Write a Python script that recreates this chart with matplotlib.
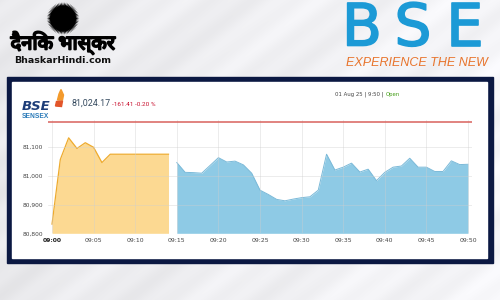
"""Recreate the BSE Sensex intraday snapshot (01 Aug 25, 9:50)."""

from __future__ import annotations

import matplotlib

matplotlib.use("Agg")

import matplotlib.pyplot as plt
import matplotlib.patheffects as pe
import numpy as np
from matplotlib.patches import Polygon, Rectangle


# minutes after 09:00
PREOPEN_MINUTES = list(range(0, 15))
PREOPEN_VALUES = [
    80832, 81057, 81132, 81095, 81115, 81099, 81046, 81075,
    81075, 81075, 81075, 81075, 81075, 81075, 81075,
]
SESSION_MINUTES = list(range(15, 51))
SESSION_VALUES = [
    81046, 81012, 81011, 81009, 81036, 81063, 81048, 81051, 81038, 81009,
    80950, 80935, 80918, 80913, 80919, 80924, 80927, 80950, 81075, 81020,
    81030, 81044, 81013, 81023, 80983, 81012, 81030, 81034, 81061, 81030,
    81030, 81015, 81015, 81052, 81039, 81040,
]
PREV_CLOSE = 81185.58

Y_TICKS = [80800, 80900, 81000, 81100]
Y_TICK_LABELS = ["80,800", "80,900", "81,000", "81,100"]
X_TICKS = list(range(0, 51, 5))
X_TICK_LABELS = ["09:00", "09:05", "09:10", "09:15", "09:20", "09:25",
                 "09:30", "09:35", "09:40", "09:45", "09:50"]

LAST_PRICE = "81,024.17"
CHANGE_TEXT = "-161.41 -0.20 %"
STAMP_TEXT = "01 Aug 25 | 9:50 | "
STATUS_TEXT = "Open"

NAVY = "#0b1842"
BSE_BLUE = "#1c9ad6"
YELLOW_FILL = "#fcd992"
YELLOW_LINE = "#eeab2e"
BLUE_FILL = "#8ecae5"
BLUE_LINE = "#7ab9d8"


def draw_background(bg) -> None:
    """Light grey page with soft diagonal streaks plus the navy chart frame."""
    yy, xx = np.mgrid[0:300, 0:500]
    shade = 0.915 + 0.05 * (xx / 500) + 0.012 * np.sin((xx + 1.3 * yy) / 22.0)
    shade += 0.01 * np.sin((xx + 1.3 * yy) / 7.0)
    img = np.dstack([shade, shade, np.clip(shade * 1.012, 0, 1)])
    bg.imshow(np.clip(img, 0, 1), extent=(0, 500, 300, 0), aspect="auto", zorder=0)

    bg.add_patch(Rectangle((7, 77), 486, 186, color=NAVY, zorder=1))
    bg.add_patch(Rectangle((12, 82), 475, 176, color="white", zorder=2))


def draw_header(bg) -> None:
    """Newspaper masthead on the left, BSE logo on the right."""
    # sun mark: a star-shaped polygon with many short rays
    cx, cy = 63, 18.5
    n_rays = 64
    ang = np.linspace(0, 2 * np.pi, 2 * n_rays, endpoint=False)
    rad = np.where(np.arange(2 * n_rays) % 2 == 0, 16.3, 12.8)
    bg.add_patch(Polygon(np.column_stack([cx + rad * np.cos(ang), cy + rad * np.sin(ang)]),
                         closed=True, color="black", lw=0, zorder=3))

    bg.text(63, 42.5, "दैनिक भास्कर", ha="center", va="center", fontsize=14.5,
            fontweight="bold", color="black",
            family=["Noto Sans Devanagari", "Lohit Devanagari", "FreeSans", "DejaVu Sans"],
            path_effects=[pe.withStroke(linewidth=1.3, foreground="black")],
            zorder=3)
    bg.text(63, 60.5, "BhaskarHindi.com", ha="center", va="center", fontsize=6.8,
            fontweight="bold", color="#111111",
            family=["Liberation Sans Narrow", "DejaVu Sans"], zorder=3)

    # BSE wordmark
    for letter, x in zip("BSE", [362, 413, 465]):
        bg.text(x, 29, letter, ha="center", va="center", fontsize=42,
                color=BSE_BLUE, family="DejaVu Sans",
                path_effects=[pe.withStroke(linewidth=1.2, foreground=BSE_BLUE)],
                zorder=3)
    bg.text(417, 63, "EXPERIENCE THE NEW", ha="center", va="center",
            fontsize=9, style="italic", color="#e8742c",
            family="Liberation Sans", zorder=3)


def draw_chart_header(bg) -> None:
    """Small Sensex logo, last price and timestamp above the plot."""
    flame = Polygon([[57.5, 100], [59, 94], [61, 89.5], [63.5, 95], [62.5, 100]],
                    closed=True, color="#f39a2c", zorder=3)
    flag = Polygon([[56.5, 101.5], [62.5, 101], [61.5, 106.5], [55.5, 106]],
                   closed=True, color="#e2552a", zorder=3)
    bg.add_patch(flame)
    bg.add_patch(flag)

    bg.text(22, 106.5, "BSE", ha="left", va="center", fontsize=9.5,
            fontweight="bold", style="italic", color="#1e3d78",
            family="DejaVu Sans", zorder=3)
    bg.text(22, 116, "SENSEX", ha="left", va="center", fontsize=4.8,
            fontweight="bold", color="#2b7bb9", family="Liberation Sans", zorder=3)

    bg.text(71, 103, LAST_PRICE, ha="left", va="center", fontsize=6.4,
            color="#34495e", family="Roboto", zorder=3)
    bg.text(112, 104, CHANGE_TEXT, ha="left", va="center", fontsize=4.6,
            color="#c8102e", family="Roboto", zorder=3)

    stamp = bg.text(335, 94.5, STAMP_TEXT, ha="left", va="center", fontsize=3.9,
                    color="#444444", family="DejaVu Sans", zorder=3)
    bg.annotate(STATUS_TEXT, xycoords=stamp, xy=(1, 0.5), va="center",
                fontsize=3.9, color="#3f9c12", family="DejaVu Sans", zorder=3)


def draw_chart(fig) -> None:
    """Pre-open (yellow) and continuous session (blue) area chart."""
    ax = fig.add_axes([0.0957, 0.2223, 0.8486, 0.3777])
    ax.set_xlim(-0.5, 50.5)
    ax.set_ylim(80800, 81194)
    ax.patch.set_alpha(0)

    ax.fill_between(PREOPEN_MINUTES, PREOPEN_VALUES, 80800, color=YELLOW_FILL, lw=0, zorder=1)
    ax.plot(PREOPEN_MINUTES, PREOPEN_VALUES, color=YELLOW_LINE, lw=0.9, zorder=2)
    ax.fill_between(SESSION_MINUTES, SESSION_VALUES, 80800, color=BLUE_FILL, lw=0, zorder=1)
    ax.plot(SESSION_MINUTES, SESSION_VALUES, color=BLUE_LINE, lw=0.7, zorder=2)

    ax.axhline(PREV_CLOSE, color="#d8625c", lw=1.1, zorder=3)

    ax.set_xticks(X_TICKS, X_TICK_LABELS)
    ax.set_yticks(Y_TICKS, Y_TICK_LABELS)
    ax.tick_params(axis="x", length=0, pad=3.4, labelsize=4.4, labelcolor="#444444")
    ax.tick_params(axis="y", length=0, pad=3.2, labelsize=4.2, labelcolor="#444444")
    ax.get_xticklabels()[0].set_fontweight("bold")
    ax.get_xticklabels()[0].set_color("#222222")

    ax.grid(True, color="#cfcfcf", lw=0.5, alpha=0.55, zorder=2.5)
    ax.set_axisbelow(False)
    for spine in ax.spines.values():
        spine.set_visible(False)


def main() -> None:
    fig = plt.figure(figsize=(5, 3), dpi=100)
    bg = fig.add_axes([0, 0, 1, 1])
    bg.set_xlim(0, 500)
    bg.set_ylim(300, 0)
    bg.axis("off")

    draw_background(bg)
    draw_header(bg)
    draw_chart_header(bg)
    draw_chart(fig)

    fig.savefig("out.png", dpi=100)
    plt.close(fig)


if __name__ == "__main__":
    main()
